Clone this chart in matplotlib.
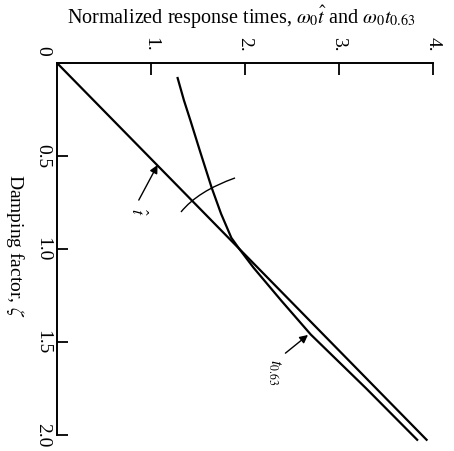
import matplotlib
matplotlib.use("Agg")
import matplotlib.pyplot as plt
from matplotlib.path import Path
from matplotlib.patches import PathPatch

plt.rcParams["font.family"] = ["Liberation Serif", "DejaVu Serif"]
plt.rcParams["mathtext.fontset"] = "stix"

# Damping factor and normalized response times
zeta_that = [0.0, 2.03]
w0_that = [0.0, 3.94]

zeta_t63 = [0.075, 0.20, 0.31, 0.48, 0.67, 0.81, 0.94, 1.0, 1.1, 1.28, 1.46, 1.75, 2.03]
w0_t63 = [1.28, 1.35, 1.42, 1.525, 1.645, 1.745, 1.855, 1.94, 2.09, 2.39, 2.70, 3.29, 3.84]

time_ticks = [1, 2, 3, 4]
time_labels = ["1.", "2.", "3.", "4."]
zeta_ticks = [0.5, 1.0, 1.5, 2.0]
zeta_labels = ["0.5", "1.0", "1.5", "2.0"]

W, H = 454, 451
fig = plt.figure(figsize=(W / 100, H / 100), dpi=100)
ax = fig.add_axes([57 / W, 1 - 435 / H, 376 / W, 372 / H])

ax.set_xlim(0, 4)
ax.set_ylim(2.0, 0)

ax.plot(w0_that, zeta_that, color="black", lw=1.6, clip_on=False, solid_capstyle="butt")
ax.plot(w0_t63, zeta_t63, color="black", lw=1.6, clip_on=False, solid_capstyle="butt",
        solid_joinstyle="round")

# arc crossing both curves
arc = Path([(1.319, 0.801), (1.4995, 0.6885), (1.894, 0.618)],
           [Path.MOVETO, Path.CURVE3, Path.CURVE3])
ax.add_patch(PathPatch(arc, fill=False, lw=1.0, color="black", clip_on=False))

# spines and ticks
for side in ("right", "bottom"):
    ax.spines[side].set_visible(False)
for side in ("top", "left"):
    ax.spines[side].set_linewidth(1.4)

ax.xaxis.tick_top()
ax.set_xticks(time_ticks)
ax.set_xticklabels(time_labels, rotation=-90)
ax.set_yticks(zeta_ticks)
ax.set_yticklabels(zeta_labels, rotation=-90, va="center")
ax.tick_params(axis="x", direction="in", length=8.6, width=1.3, pad=8.5, labelsize=14)
ax.tick_params(axis="y", direction="in", length=8, width=1.3, pad=4, labelsize=14)

fig.text(43 / W, 1 - 51 / H, "0", rotation=-90, ha="center", va="center", fontsize=14)

fig.text(241 / W, 1 - 17 / H,
         r"Normalized response times, $\omega_0\hat{t}$ and $\omega_0 t_{0.63}$",
         ha="center", va="center", fontsize=14.5)
fig.text(15 / W, 1 - 246 / H, r"Damping factor, $\zeta$", rotation=-90,
         ha="center", va="center", fontsize=14)

# curve labels with arrows
arrow = dict(arrowstyle="-|>", lw=1.0, color="black", mutation_scale=12,
             shrinkA=0, shrinkB=0)
ax.annotate("", xy=(1.07, 0.548), xytext=(0.87, 0.737), arrowprops=arrow)
ax.text(0.85, 0.80, r"$\hat{t}$", rotation=-90, ha="center", va="center", fontsize=13)
ax.annotate("", xy=(2.67, 1.462), xytext=(2.43, 1.56), arrowprops=arrow)
ax.text(2.31, 1.66, r"$t_{0.63}$", rotation=-90, ha="center", va="center", fontsize=12)

fig.savefig("out.png", dpi=100)
